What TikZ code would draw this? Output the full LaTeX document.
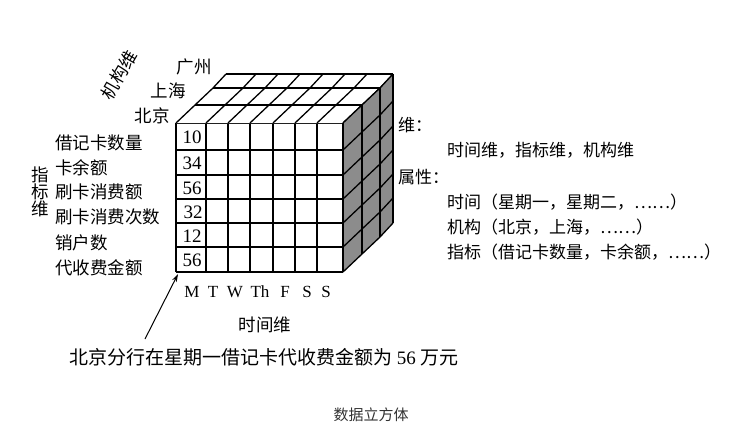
\documentclass[tikz,border=0pt]{standalone}
\usepackage{fontspec}
\setmainfont{Liberation Serif}
\newfontfamily\cjk{Noto Sans CJK SC}
\usetikzlibrary{arrows.meta}
\definecolor{sidegray}{HTML}{8C8C8C}
\definecolor{captiongray}{HTML}{333333}
\begin{document}
\begin{tikzpicture}[x=1pt,y=-1pt,
  cubeline/.style={line width=1.3pt, line join=round},
  zh/.style={font=\cjk\fontsize{17.5}{19}\selectfont, inner sep=0pt},
  zhleft/.style={zh, anchor=west},
  zhright/.style={font=\cjk\fontsize{17}{19}\selectfont, inner sep=0pt, anchor=west},
  num/.style={font=\fontsize{19}{20}\selectfont, inner sep=0pt},
  day/.style={font=\fontsize{17}{18}\selectfont, inner sep=0pt},
]
\useasboundingbox (0,0) rectangle (747,445);
\fill[white] (0,0) rectangle (747,445);

% geometry
\def\xs{176,206,228,250,273,295,317,343}
\def\ys{123,150,175,199,223,247,272}

% front face
\fill[white] (176,123) rectangle (343,272);
\foreach \x in \xs {\draw[cubeline] (\x,123) -- (\x,272);}
\foreach \y in \ys {\draw[cubeline] (176,\y) -- (343,\y);}

% top face
\fill[white] (176,123) -- (195,105) -- (213,88) -- (226,74) -- (393,74) -- (380,88) -- (362,105) -- (343,123) -- cycle;
\foreach \x in \xs {\draw[cubeline] (\x,123) -- ++(19,-18) -- ++(18,-17) -- ++(13,-14);}
\draw[cubeline] (195,105) -- (362,105);
\draw[cubeline] (213,88) -- (380,88);
\draw[cubeline] (226,74) -- (393,74);

% right face
\fill[sidegray] (343,123) -- (362,105) -- (380,88) -- (393,74) -- (393,223) -- (380,237) -- (362,254) -- (343,272) -- cycle;
\foreach \y in \ys {\draw[cubeline] (343,\y) -- ++(19,-18) -- ++(18,-17) -- ++(13,-14);}
\draw[cubeline] (362,105) -- (362,254);
\draw[cubeline] (380,88) -- (380,237);
\draw[cubeline] (393,74) -- (393,223);
\draw[cubeline] (343,123) -- (343,272);

% numbers in first column
\node[num] (n1) at (192,137) {10};
\node[num] (n2) at (192,163) {34};
\node[num] (n3) at (192,188) {56};
\node[num] (n4) at (193,212) {32};
\node[num] (n5) at (192,236) {12};
\node[num] (n6) at (192,260) {56};
\coordinate (corner) at (178,274);

% organisation axis
\node[zh, rotate=60] (orgdim) at (119,75) {机构维};
\node[zh] (gz) at (194,67) {广州};
\node[zh] (sh) at (168,91) {上海};
\node[zh] (bj) at (152,116) {北京};

% indicator labels
\node[zhleft] (r1) at (55,143) {借记卡数量};
\node[zhleft] (r2) at (55,168) {卡余额};
\node[zhleft] (r3) at (55,192) {刷卡消费额};
\node[zhleft] (r4) at (55,217) {刷卡消费次数};
\node[zhleft] (r5) at (55,243) {销户数};
\node[zhleft] (r6) at (55,268) {代收费金额};
\node[zh] (z1) at (40,175) {指};
\node[zh] (z2) at (40,192) {标};
\node[zh] (z3) at (40,209) {维};

% days
\node[day] (d1) at (192,292) {M};
\node[day] (d2) at (213,292) {T};
\node[day] (d3) at (235,292) {W};
\node[day] (d4) at (260,292) {Th};
\node[day] (d5) at (285,292) {F};
\node[day] (d6) at (307,292) {S};
\node[day] (d7) at (326,292) {S};
\node[zh] (timedim) at (265,325) {时间维};

% annotation
\node[font=\cjk\fontsize{19}{20}\selectfont, inner sep=0pt] (note) at (264,357) {北京分行在星期一借记卡代收费金额为 {\rmfamily 56} 万元};
\coordinate (tail) at (145,339);
\draw[line width=1pt, -{Stealth[length=8pt,width=5pt]}] (tail) -- (corner);

% right-hand description
\node[zhright] (w1) at (398,125) {维：};
\node[zhright] (w2) at (447,150) {时间维，指标维，机构维};
\node[zhright] (w3) at (398,177) {属性：};
\node[zhright] (w4) at (447,202) {时间（星期一，星期二，……）};
\node[zhright] (w5) at (447,227) {机构（北京，上海，……）};
\node[zhright] (w6) at (447,252) {指标（借记卡数量，卡余额，……）};

% caption
\node[font=\cjk\fontsize{15}{16}\selectfont, text=captiongray, inner sep=0pt] (cap) at (371,415) {数据立方体};
\end{tikzpicture}
\end{document}
